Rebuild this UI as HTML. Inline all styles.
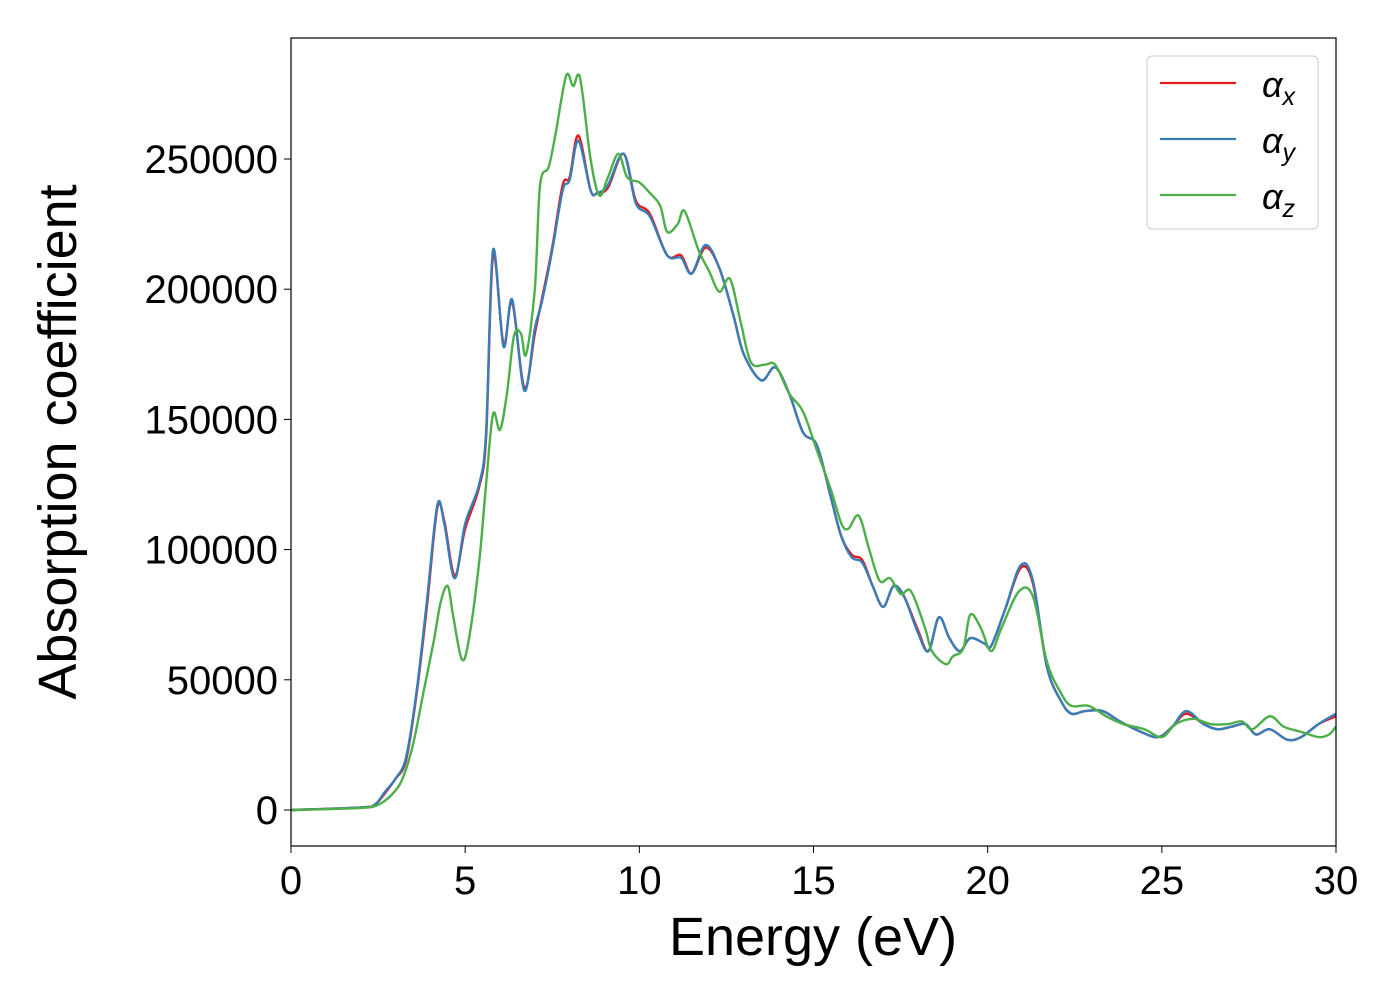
<!DOCTYPE html>
<html><head><meta charset="utf-8"><style>
body{margin:0;background:#fff;}
svg text{font-family:"Liberation Sans","DejaVu Sans",sans-serif;}
</style></head><body>
<svg id="chart" width="1400" height="1000" viewBox="0 0 1400 1000" xmlns="http://www.w3.org/2000/svg">
<rect width="1400" height="1000" fill="#fff"/>
<g id="series"></g>
<rect x="291" y="38" width="1045" height="808" fill="none" stroke="#000" stroke-width="1.2"/>
<g id="xticks"></g><g id="yticks"></g>
<text x="813" y="955" font-size="54" text-anchor="middle">Energy (eV)</text>
<text transform="translate(76,442) rotate(-90)" font-size="54" text-anchor="middle">Absorption coefficient</text>
<g>
<rect x="1147" y="56" width="171" height="173" rx="5" fill="#fff" stroke="#ccc" stroke-width="1"/>
<line x1="1160" y1="83" x2="1236" y2="83" stroke="#e41a1c" stroke-width="2.2"/>
<text x="1262" y="97" font-size="36" font-style="italic">α<tspan font-size="25" dy="8">x</tspan></text>
<line x1="1160" y1="139" x2="1236" y2="139" stroke="#377eb8" stroke-width="2.2"/>
<text x="1262" y="153" font-size="36" font-style="italic">α<tspan font-size="25" dy="8">y</tspan></text>
<line x1="1160" y1="195" x2="1236" y2="195" stroke="#4daf4a" stroke-width="2.2"/>
<text x="1262" y="209" font-size="36" font-style="italic">α<tspan font-size="25" dy="8">z</tspan></text>
</g>
</svg>
<script>
const xTicks=[0,5,10,15,20,25,30];
const yTicks=[0,50000,100000,150000,200000,250000];
const energyXY=[0,2,2.4,2.7,3,3.3,3.6,3.9,4.2,4.4,4.7,5.0,5.4,5.6,5.8,6.1,6.35,6.7,7.0,7.2,7.5,7.8,8.0,8.25,8.6,8.8,9.1,9.55,9.9,10.3,10.8,11.2,11.5,11.9,12.3,12.7,13.0,13.5,13.9,14.3,14.7,15.1,15.5,15.8,16.1,16.4,16.7,17.0,17.3,17.6,18.0,18.3,18.6,18.9,19.2,19.5,19.9,20.1,20.5,20.95,21.3,21.7,22.1,22.4,22.8,23.3,23.8,24.4,24.9,25.3,25.7,26.2,26.6,27.0,27.4,27.7,28.1,28.6,29.0,29.5,30];
const alphaY=[0,1000,2000,7000,12000,20000,45000,80000,117000,110000,89000,110000,125000,145000,215000,178000,196000,161000,185000,195000,215000,238000,242000,257000,238000,237000,240000,252000,233000,228000,213000,212000,206000,217000,208000,190000,175000,165000,170000,160000,145000,140000,120000,105000,97000,95000,86000,78000,86000,82000,68000,61000,74000,66000,61000,66000,64000,63000,77000,94000,88000,55000,42000,37000,38000,38000,34000,30000,28000,32000,38000,33000,31000,32000,33000,29000,31000,27000,28000,33000,37000];
const alphaX=[0,1000,2000,6500,12000,19000,44000,78000,116000,111000,90000,108000,124000,143000,213000,179000,195000,162000,183000,196000,216000,240000,243000,259000,238000,237000,239000,252000,234000,229000,213000,213000,206000,216000,208000,190000,175000,165000,170000,160000,145000,140000,120000,105000,98000,96000,86000,78000,86000,82000,69000,61000,74000,66000,61000,66000,64000,63000,77000,93000,87000,55000,42000,37000,38000,38000,34000,30000,28000,32000,37000,33000,31000,32000,33000,29000,31000,27000,28000,33000,36000];
const energyZ=[0,2,2.5,2.9,3.2,3.5,3.8,4.1,4.3,4.5,4.65,4.9,5.1,5.4,5.6,5.8,6.0,6.2,6.4,6.6,6.75,7.0,7.15,7.4,7.6,7.9,8.1,8.3,8.6,8.85,9.1,9.4,9.65,10.0,10.3,10.6,10.8,11.1,11.3,11.7,12.0,12.3,12.6,12.9,13.2,13.6,13.9,14.3,14.7,15.1,15.5,15.8,16.0,16.3,16.6,16.9,17.2,17.5,17.8,18.2,18.4,18.8,19.0,19.3,19.5,19.8,20.1,20.4,20.9,21.3,21.7,22.1,22.4,22.9,23.4,23.9,24.5,25.0,25.4,25.9,26.4,26.9,27.3,27.6,28.1,28.5,29.0,29.5,29.8,30];
const alphaZ=[0,800,2000,6000,12000,25000,45000,65000,80000,86000,75000,58000,65000,95000,125000,152000,146000,160000,182000,183000,175000,200000,240000,247000,260000,282000,278000,281000,250000,236000,243000,252000,243000,241000,237000,232000,222000,225000,230000,215000,207000,199000,204000,188000,172000,171000,171000,160000,153000,138000,123000,110000,108000,113000,100000,88000,89000,83000,84000,70000,61000,56000,59000,62000,75000,70000,61000,70000,84000,82000,57000,45000,40000,40000,36000,33000,31000,28000,33000,35000,33000,33000,34000,31000,36000,32000,30000,28000,29000,32000];
const NS='http://www.w3.org/2000/svg';
const sx=e=>291+e*(1045/30);
const sy=v=>810-v*(651/250000);
function smoothPath(xs,ys){
  const p=xs.map((e,i)=>[sx(e),sy(ys[i])]);
  let d='M'+p[0][0]+','+p[0][1];
  for(let i=0;i<p.length-1;i++){
    const p0=p[Math.max(0,i-1)],p1=p[i],p2=p[i+1],p3=p[Math.min(p.length-1,i+2)];
    const c1=[p1[0]+(p2[0]-p0[0])/6,p1[1]+(p2[1]-p0[1])/6];
    const c2=[p2[0]-(p3[0]-p1[0])/6,p2[1]-(p3[1]-p1[1])/6];
    d+=' C'+c1[0]+','+c1[1]+' '+c2[0]+','+c2[1]+' '+p2[0]+','+p2[1];
  }
  return d;
}
const g=document.getElementById('series');
function addLine(xs,ys,color,name){
  const el=document.createElementNS(NS,'path');
  el.setAttribute('d',smoothPath(xs,ys));
  el.setAttribute('fill','none');el.setAttribute('stroke',color);el.setAttribute('stroke-width','2.4');
  el.setAttribute('stroke-linejoin','round');
  
  
  g.appendChild(el);
}
addLine(energyXY,alphaX,'#e41a1c','alpha-x-line');
addLine(energyXY,alphaY,'#377eb8','alpha-y-line');
addLine(energyZ,alphaZ,'#4daf4a','alpha-z-line');
const xg=document.getElementById('xticks');
xTicks.forEach(t=>{
  const l=document.createElementNS(NS,'line');
  l.setAttribute('x1',sx(t));l.setAttribute('x2',sx(t));l.setAttribute('y1',846);l.setAttribute('y2',853);l.setAttribute('stroke','#000');
  
  
  xg.appendChild(l);
  const tx=document.createElementNS(NS,'text');
  tx.setAttribute('x',sx(t));tx.setAttribute('y',894);tx.setAttribute('font-size','40');tx.setAttribute('text-anchor','middle');
  tx.textContent=t;
  
  
  xg.appendChild(tx);
});
const yg=document.getElementById('yticks');
yTicks.forEach(t=>{
  const l=document.createElementNS(NS,'line');
  l.setAttribute('x1',284);l.setAttribute('x2',291);l.setAttribute('y1',sy(t));l.setAttribute('y2',sy(t));l.setAttribute('stroke','#000');
  
  
  yg.appendChild(l);
  const tx=document.createElementNS(NS,'text');
  tx.setAttribute('x',278);tx.setAttribute('y',sy(t)+14);tx.setAttribute('font-size','40');tx.setAttribute('text-anchor','end');
  tx.textContent=t;
  
  
  yg.appendChild(tx);
});
</script>
</body></html>
